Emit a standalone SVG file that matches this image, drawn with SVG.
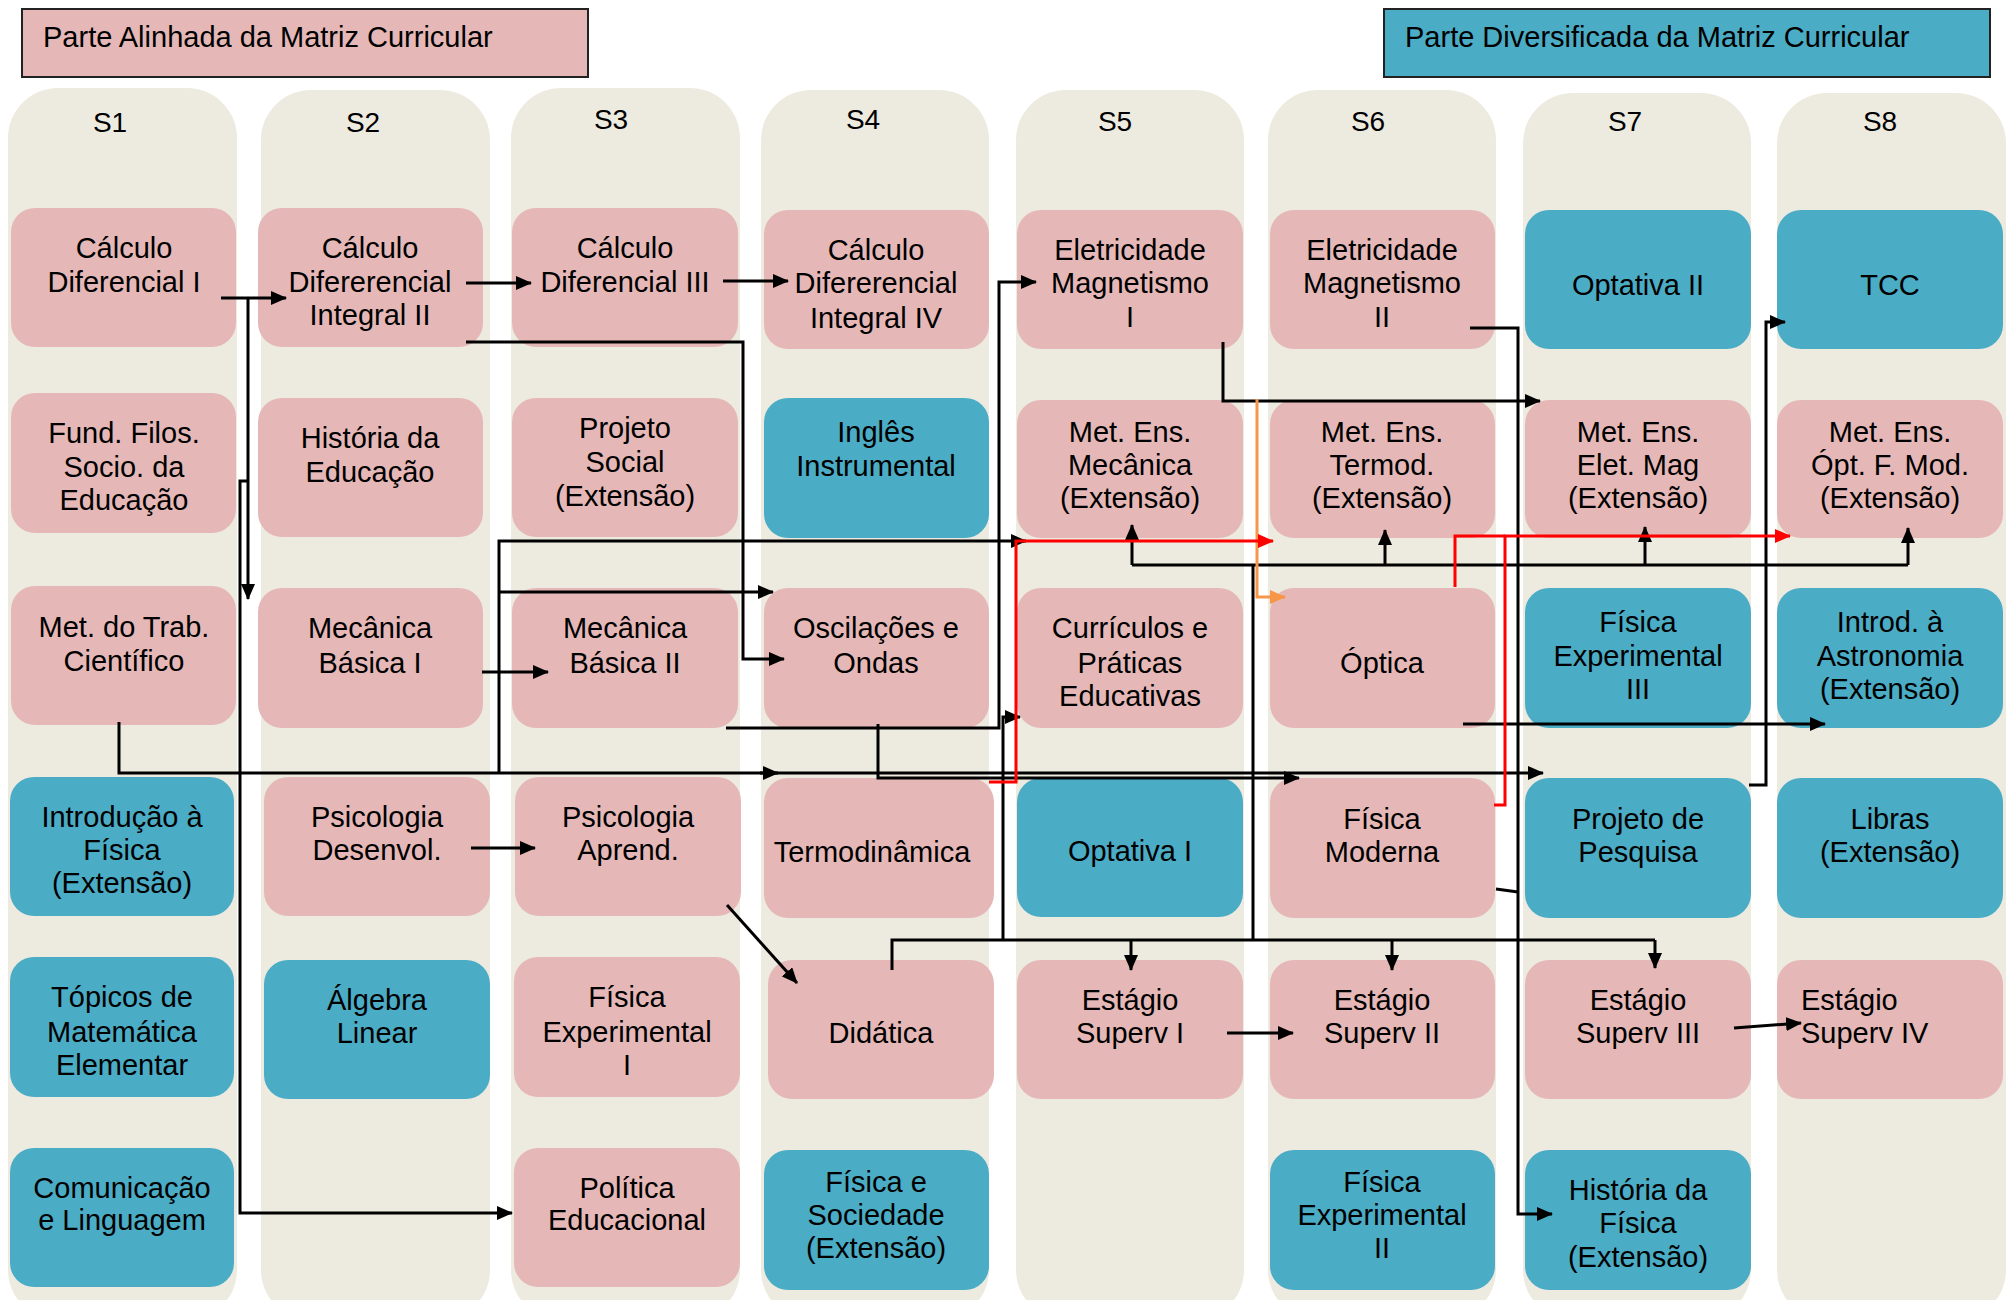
<svg xmlns="http://www.w3.org/2000/svg" width="2008" height="1300" viewBox="0 0 2008 1300">
<style>
.col{fill:#EDEAE0}
.p{fill:#E5B8B7}
.b{fill:#4BACC6}
text{font-family:"Liberation Sans",Arial,sans-serif;font-size:29px;fill:#000;text-anchor:middle}
.hd{font-size:28px}
.lg{text-anchor:start}
.k{fill:none;stroke:#000;stroke-width:3}
.r{fill:none;stroke:#FF0000;stroke-width:3}
.o{fill:none;stroke:#F79646;stroke-width:3}
</style>
<defs>
<marker id="ak" markerUnits="userSpaceOnUse" markerWidth="16" markerHeight="14" refX="15" refY="7" orient="auto"><path d="M0,0 L16,7 L0,14 z" fill="#000"/></marker>
<marker id="ar" markerUnits="userSpaceOnUse" markerWidth="16" markerHeight="14" refX="15" refY="7" orient="auto"><path d="M0,0 L16,7 L0,14 z" fill="#FF0000"/></marker>
<marker id="ao" markerUnits="userSpaceOnUse" markerWidth="16" markerHeight="14" refX="15" refY="7" orient="auto"><path d="M0,0 L16,7 L0,14 z" fill="#F79646"/></marker>
</defs>
<rect width="2008" height="1300" fill="#fff"/>
<g id="legend">
<rect x="22" y="9" width="566" height="68" fill="#E5B8B7" stroke="#222" stroke-width="2"/>
<text class="lg" x="43" y="47">Parte Alinhada da Matriz Curricular</text>
<rect x="1384" y="9" width="606" height="68" fill="#4BACC6" stroke="#222" stroke-width="2"/>
<text class="lg" x="1405" y="47">Parte Diversificada da Matriz Curricular</text>
</g>
<g id="columns">
<rect class="col" x="8" y="88" width="229" height="1232" rx="50"/>
<rect class="col" x="261" y="90" width="229" height="1230" rx="50"/>
<rect class="col" x="511" y="88" width="229" height="1232" rx="50"/>
<rect class="col" x="761" y="90" width="228" height="1230" rx="50"/>
<rect class="col" x="1016" y="90" width="228" height="1230" rx="50"/>
<rect class="col" x="1268" y="90" width="228" height="1230" rx="50"/>
<rect class="col" x="1523" y="93" width="228" height="1227" rx="50"/>
<rect class="col" x="1777" y="93" width="229" height="1227" rx="50"/>
<text class="hd" x="110" y="132">S1</text>
<text class="hd" x="363" y="132">S2</text>
<text class="hd" x="611" y="129">S3</text>
<text class="hd" x="863" y="129">S4</text>
<text class="hd" x="1115" y="131">S5</text>
<text class="hd" x="1368" y="131">S6</text>
<text class="hd" x="1625" y="131">S7</text>
<text class="hd" x="1880" y="131">S8</text>
</g>
<!-- S1 -->
<g id="calc1"><rect class="p" x="11" y="208" width="225" height="139" rx="24"/><text x="124" y="258">Cálculo</text><text x="124" y="292">Diferencial I</text></g>
<g id="fundfilos"><rect class="p" x="11" y="393" width="225" height="140" rx="24"/><text x="124" y="443">Fund. Filos.</text><text x="124" y="477">Socio. da</text><text x="124" y="510">Educação</text></g>
<g id="mettrab"><rect class="p" x="11" y="586" width="225" height="139" rx="24"/><text x="124" y="637">Met. do Trab.</text><text x="124" y="671">Científico</text></g>
<g id="introfis"><rect class="b" x="10" y="777" width="224" height="139" rx="24"/><text x="122" y="827">Introdução à</text><text x="122" y="860">Física</text><text x="122" y="893">(Extensão)</text></g>
<g id="topicos"><rect class="b" x="10" y="957" width="224" height="140" rx="24"/><text x="122" y="1007">Tópicos de</text><text x="122" y="1042">Matemática</text><text x="122" y="1075">Elementar</text></g>
<g id="comunic"><rect class="b" x="10" y="1148" width="224" height="139" rx="24"/><text x="122" y="1198">Comunicação</text><text x="122" y="1230">e Linguagem</text></g>
<!-- S2 -->
<g id="calc2"><rect class="p" x="258" y="208" width="225" height="139" rx="24"/><text x="370" y="258">Cálculo</text><text x="370" y="292">Difererencial</text><text x="370" y="325">Integral II</text></g>
<g id="histedu"><rect class="p" x="258" y="398" width="225" height="139" rx="24"/><text x="370" y="448">História da</text><text x="370" y="482">Educação</text></g>
<g id="mec1"><rect class="p" x="258" y="588" width="225" height="140" rx="24"/><text x="370" y="638">Mecânica</text><text x="370" y="673">Básica I</text></g>
<g id="psidesenv"><rect class="p" x="264" y="777" width="226" height="139" rx="24"/><text x="377" y="827">Psicologia</text><text x="377" y="860">Desenvol.</text></g>
<g id="algebra"><rect class="b" x="264" y="960" width="226" height="139" rx="24"/><text x="377" y="1010">Álgebra</text><text x="377" y="1043">Linear</text></g>
<!-- S3 -->
<g id="calc3"><rect class="p" x="512" y="208" width="226" height="139" rx="24"/><text x="625" y="258">Cálculo</text><text x="625" y="292">Diferencial III</text></g>
<g id="projsocial"><rect class="p" x="512" y="398" width="226" height="139" rx="24"/><text x="625" y="438">Projeto</text><text x="625" y="472">Social</text><text x="625" y="506">(Extensão)</text></g>
<g id="mec2"><rect class="p" x="512" y="588" width="226" height="140" rx="24"/><text x="625" y="638">Mecânica</text><text x="625" y="673">Básica II</text></g>
<g id="psiaprend"><rect class="p" x="515" y="777" width="226" height="139" rx="24"/><text x="628" y="827">Psicologia</text><text x="628" y="860">Aprend.</text></g>
<g id="fisexp1"><rect class="p" x="514" y="957" width="226" height="140" rx="24"/><text x="627" y="1007">Física</text><text x="627" y="1042">Experimental</text><text x="627" y="1075">I</text></g>
<g id="politica"><rect class="p" x="514" y="1148" width="226" height="139" rx="24"/><text x="627" y="1198">Política</text><text x="627" y="1230">Educacional</text></g>
<!-- S4 -->
<g id="calc4"><rect class="p" x="764" y="210" width="225" height="139" rx="24"/><text x="876" y="260">Cálculo</text><text x="876" y="293">Difererencial</text><text x="876" y="328">Integral IV</text></g>
<g id="ingles"><rect class="b" x="764" y="398" width="225" height="140" rx="24"/><text x="876" y="442">Inglês</text><text x="876" y="476">Instrumental</text></g>
<g id="oscil"><rect class="p" x="764" y="588" width="225" height="140" rx="24"/><text x="876" y="638">Oscilações e</text><text x="876" y="673">Ondas</text></g>
<g id="termo"><rect class="p" x="764" y="778" width="230" height="140" rx="24"/><text x="872" y="862">Termodinâmica</text></g>
<g id="didatica"><rect class="p" x="768" y="960" width="226" height="139" rx="24"/><text x="881" y="1043">Didática</text></g>
<g id="fissoc"><rect class="b" x="764" y="1150" width="225" height="140" rx="24"/><text x="876" y="1192">Física e</text><text x="876" y="1225">Sociedade</text><text x="876" y="1258">(Extensão)</text></g>
<!-- S5 -->
<g id="elet1"><rect class="p" x="1017" y="210" width="226" height="139" rx="24"/><text x="1130" y="260">Eletricidade</text><text x="1130" y="293">Magnetismo</text><text x="1130" y="327">I</text></g>
<g id="metmec"><rect class="p" x="1017" y="400" width="226" height="138" rx="24"/><text x="1130" y="442">Met. Ens.</text><text x="1130" y="475">Mecânica</text><text x="1130" y="508">(Extensão)</text></g>
<g id="curric"><rect class="p" x="1017" y="588" width="226" height="140" rx="24"/><text x="1130" y="638">Currículos e</text><text x="1130" y="673">Práticas</text><text x="1130" y="706">Educativas</text></g>
<g id="optativa1"><rect class="b" x="1017" y="778" width="226" height="139" rx="24"/><text x="1130" y="861">Optativa I</text></g>
<g id="estagio1"><rect class="p" x="1017" y="960" width="226" height="139" rx="24"/><text x="1130" y="1010">Estágio</text><text x="1130" y="1043">Superv I</text></g>
<!-- S6 -->
<g id="elet2"><rect class="p" x="1270" y="210" width="225" height="139" rx="24"/><text x="1382" y="260">Eletricidade</text><text x="1382" y="293">Magnetismo</text><text x="1382" y="327">II</text></g>
<g id="mettermo"><rect class="p" x="1270" y="400" width="225" height="138" rx="24"/><text x="1382" y="442">Met. Ens.</text><text x="1382" y="475">Termod.</text><text x="1382" y="508">(Extensão)</text></g>
<g id="optica"><rect class="p" x="1270" y="588" width="225" height="140" rx="24"/><text x="1382" y="673">Óptica</text></g>
<g id="fismod"><rect class="p" x="1270" y="778" width="225" height="140" rx="24"/><text x="1382" y="829">Física</text><text x="1382" y="862">Moderna</text></g>
<g id="estagio2"><rect class="p" x="1270" y="960" width="225" height="139" rx="24"/><text x="1382" y="1010">Estágio</text><text x="1382" y="1043">Superv II</text></g>
<g id="fisexp2"><rect class="b" x="1270" y="1150" width="225" height="140" rx="24"/><text x="1382" y="1192">Física</text><text x="1382" y="1225">Experimental</text><text x="1382" y="1258">II</text></g>
<!-- S7 -->
<g id="optativa2"><rect class="b" x="1525" y="210" width="226" height="139" rx="24"/><text x="1638" y="295">Optativa II</text></g>
<g id="metelet"><rect class="p" x="1525" y="400" width="226" height="138" rx="24"/><text x="1638" y="442">Met. Ens.</text><text x="1638" y="475">Elet. Mag</text><text x="1638" y="508">(Extensão)</text></g>
<g id="fisexp3"><rect class="b" x="1525" y="588" width="226" height="140" rx="24"/><text x="1638" y="632">Física</text><text x="1638" y="666">Experimental</text><text x="1638" y="699">III</text></g>
<g id="projpesq"><rect class="b" x="1525" y="778" width="226" height="140" rx="24"/><text x="1638" y="829">Projeto de</text><text x="1638" y="862">Pesquisa</text></g>
<g id="estagio3"><rect class="p" x="1525" y="960" width="226" height="139" rx="24"/><text x="1638" y="1010">Estágio</text><text x="1638" y="1043">Superv III</text></g>
<g id="histfis"><rect class="b" x="1525" y="1150" width="226" height="140" rx="24"/><text x="1638" y="1200">História da</text><text x="1638" y="1233">Física</text><text x="1638" y="1267">(Extensão)</text></g>
<!-- S8 -->
<g id="tcc"><rect class="b" x="1777" y="210" width="226" height="139" rx="24"/><text x="1890" y="295">TCC</text></g>
<g id="metopt"><rect class="p" x="1777" y="400" width="226" height="138" rx="24"/><text x="1890" y="442">Met. Ens.</text><text x="1890" y="475">Ópt. F. Mod.</text><text x="1890" y="508">(Extensão)</text></g>
<g id="astro"><rect class="b" x="1777" y="588" width="226" height="140" rx="24"/><text x="1890" y="632">Introd. à</text><text x="1890" y="666">Astronomia</text><text x="1890" y="699">(Extensão)</text></g>
<g id="libras"><rect class="b" x="1777" y="778" width="226" height="140" rx="24"/><text x="1890" y="829">Libras</text><text x="1890" y="862">(Extensão)</text></g>
<g id="estagio4"><rect class="p" x="1777" y="960" width="226" height="139" rx="24"/><text class="lg" x="1801" y="1010">Estágio</text><text class="lg" x="1801" y="1043">Superv IV</text></g>
<g id="connectors">
<path class="k" d="M221 298 H286" marker-end="url(#ak)"/>
<path class="k" d="M248 298 V599" marker-end="url(#ak)"/>
<path class="k" d="M247 481 H240 V1213 H512" marker-end="url(#ak)"/>
<path class="k" d="M466 283 H531" marker-end="url(#ak)"/>
<path class="k" d="M723 281 H788" marker-end="url(#ak)"/>
<path class="k" d="M466 342 H743 V659 H784" marker-end="url(#ak)"/>
<path class="k" d="M482 672 H548" marker-end="url(#ak)"/>
<path class="k" d="M471 848 H535" marker-end="url(#ak)"/>
<path class="k" d="M727 905 L797 983" marker-end="url(#ak)"/>
<path class="k" d="M726 728 H999 V282 H1036" marker-end="url(#ak)"/>
<path class="k" d="M119 722 V773 H1543" marker-end="url(#ak)"/>
<path class="k" d="M499 773 V541 H1026" marker-end="url(#ak)"/>
<path class="k" d="M499 592 H773" marker-end="url(#ak)"/>
<path class="k" d="M760 773 H778" marker-end="url(#ak)"/>
<path class="k" d="M878 724 V778 H1299" marker-end="url(#ak)"/>
<path class="k" d="M1223 342 V401 H1540" marker-end="url(#ak)"/>
<path class="k" d="M1470 328 H1518 V1214 H1552" marker-end="url(#ak)"/>
<path class="k" d="M1496 889 L1518 892"/>
<path class="k" d="M1463 724 H1825" marker-end="url(#ak)"/>
<path class="k" d="M1749 785 H1766 V322 H1785" marker-end="url(#ak)"/>
<path class="k" d="M892 970 V940 H1655"/>
<path class="k" d="M1131 940 V970" marker-end="url(#ak)"/>
<path class="k" d="M1392 940 V970" marker-end="url(#ak)"/>
<path class="k" d="M1655 940 V968" marker-end="url(#ak)"/>
<path class="k" d="M1003 940 V717 H1020" marker-end="url(#ak)"/>
<path class="k" d="M1253 940 V565"/>
<path class="k" d="M1132 565 H1908"/>
<path class="k" d="M1132 565 V525" marker-end="url(#ak)"/>
<path class="k" d="M1385 565 V530" marker-end="url(#ak)"/>
<path class="k" d="M1645 565 V527" marker-end="url(#ak)"/>
<path class="k" d="M1908 565 V528" marker-end="url(#ak)"/>
<path class="k" d="M1227 1033 H1293" marker-end="url(#ak)"/>
<path class="k" d="M1734 1028 L1801 1023" marker-end="url(#ak)"/>
<path class="o" d="M1257 399 V597 H1285" marker-end="url(#ao)"/>
<path class="r" d="M989 782 H1016 V541 H1273" marker-end="url(#ar)"/>
<path class="r" d="M1455 587 V536 H1505"/>
<path class="r" d="M1494 805 H1505 V536 H1790" marker-end="url(#ar)"/>
</g>
</svg>
